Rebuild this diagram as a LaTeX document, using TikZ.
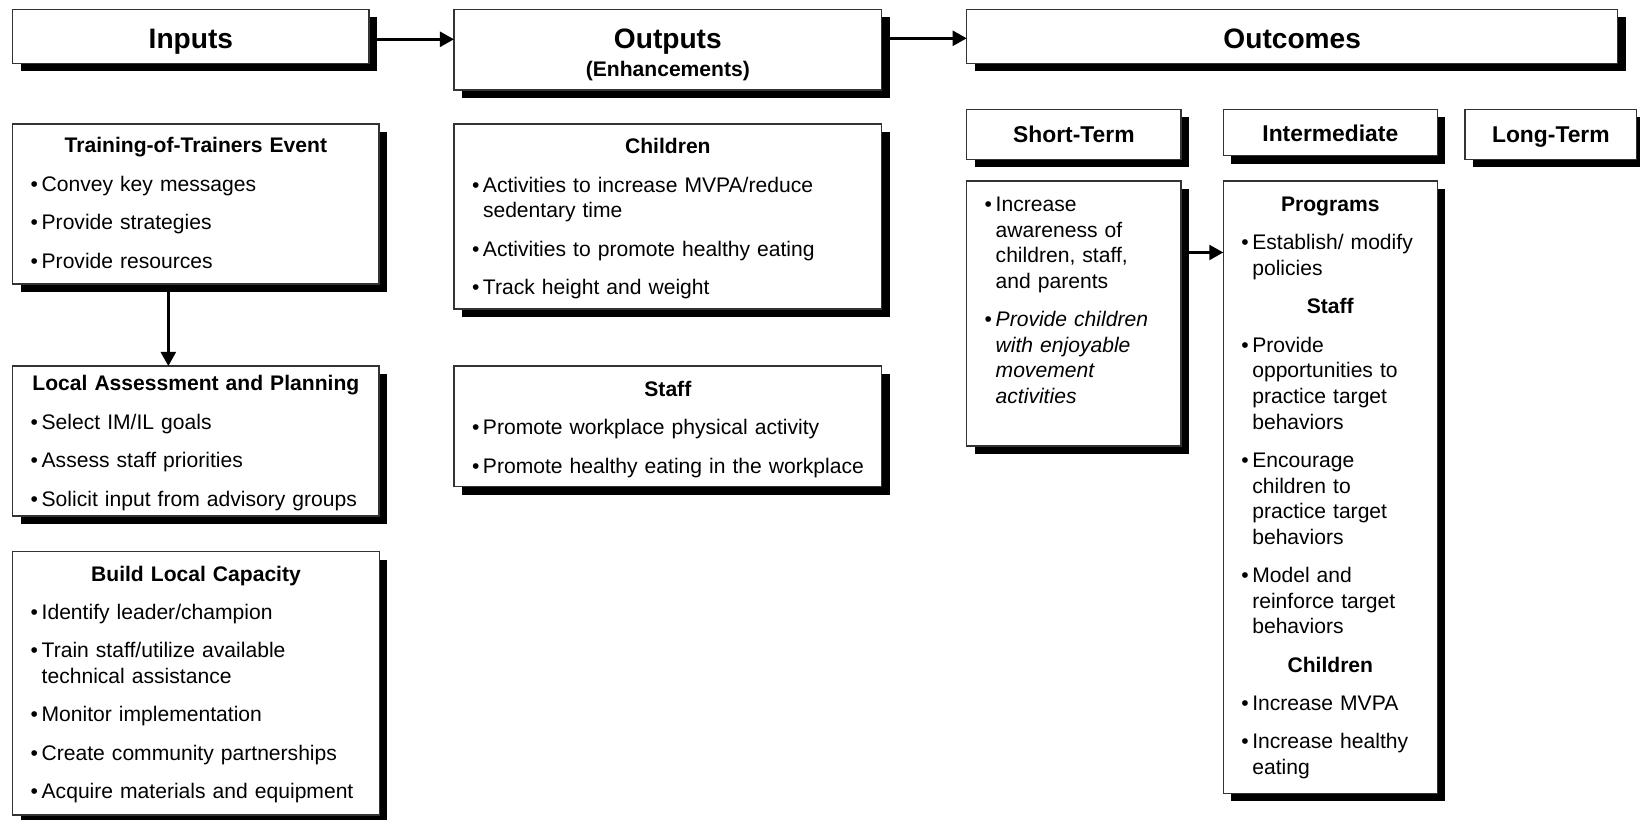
\documentclass[tikz,border=0pt]{standalone}
\usepackage{fontspec}
\setmainfont{Liberation Sans}
\usetikzlibrary{positioning,arrows.meta,shadows}

\newlength{\px}
\setlength{\px}{0.02cm}
\newcommand{\bul}{\hspace*{8\px}\makebox[11\px][l]{\textbullet}}
\newcommand{\contd}{\hspace*{19\px}}
\newcommand{\boxhead}[1]{\makebox[\linewidth][c]{\bfseries #1}}
\newcommand{\nextitem}{\\[7.28pt]}

\tikzset{
  framed/.style={draw=black!80, line width=0.7pt, fill=white, outer sep=0pt,
    drop shadow={shadow xshift=8\px, shadow yshift=-8\px, fill=black, opacity=1}},
  title/.style={framed, anchor=north west, inner sep=0pt,
    font=\bfseries\fontsize{16}{15.82}\selectfont},
  colhead/.style={framed, anchor=north west, inner sep=0pt,
    font=\bfseries\fontsize{13}{15}\selectfont},
  panel/.style={framed, anchor=north west, inner xsep=10\px, inner ysep=0pt,
    align=left, font=\fontsize{12}{14.57}\selectfont},
  arr/.style={-{Triangle[length=8pt,width=8.5pt]}, line width=1.5pt},
}

\begin{document}
\begin{tikzpicture}[x=0.02cm,y=-0.02cm]
  \useasboundingbox (0,0) rectangle (1640,820);

  \node[title, minimum width=356.3\px, text height=39\px, text depth=15\px] (inputs) at (12.7,9.3) {Inputs};
  \node[title, text width=427.7\px, align=center, text height=39.4\px, text depth=41.3\px,
    right=85\px of inputs.north east, anchor=north west] (outputs)
    {Outputs\\{\fontsize{12}{15.82}\selectfont(Enhancements)}};
  \node[title, minimum width=651\px, text height=39\px, text depth=15\px,
    right=85\px of outputs.north east, anchor=north west] (outcomes) {Outcomes};

  \node[colhead, minimum width=214.3\px, text height=33\px, text depth=17\px,
    below=46\px of outcomes.south west, anchor=north west] (short) {Short-Term};
  \node[colhead, minimum width=214\px, text height=32\px, text depth=14.4\px,
    right=42.3\px of short.north east, anchor=north west] (inter) {Intermediate};
  \node[colhead, minimum width=171.7\px, text height=33.5\px, text depth=16.5\px,
    right=27.7\px of inter.north east, anchor=north west] (long) {Long-Term};

  \node[panel, text width=346.3\px, text height=29\px, text depth=131\px,
    below=60.7\px of inputs.south west, anchor=north west] (tot)
    {\boxhead{Training-of-Trainers Event}\nextitem
     \bul Convey key messages\nextitem
     \bul Provide strategies\nextitem
     \bul Provide resources};
  \node[panel, text width=346.3\px, text height=25\px, text depth=125\px,
    below=82\px of tot.south west, anchor=north west] (lap)
    {\boxhead{Local Assessment and Planning}\nextitem
     \bul Select IM/IL goals\nextitem
     \bul Assess staff priorities\nextitem
     \bul Solicit input from advisory groups};
  \node[panel, text width=346.6\px, text height=29.5\px, text depth=233.8\px,
    below=35.7\px of lap.south west, anchor=north west] (blc)
    {\boxhead{Build Local Capacity}\nextitem
     \bul Identify leader/champion\nextitem
     \bul Train staff/utilize available\\\contd technical assistance\nextitem
     \bul Monitor implementation\nextitem
     \bul Create community partnerships\nextitem
     \bul Acquire materials and equipment};

  \node[panel, text width=407.7\px, text height=29.8\px, text depth=155.2\px,
    right=75\px of tot.north east, anchor=north west] (kids)
    {\boxhead{Children}\nextitem
     \bul Activities to increase MVPA/reduce\\\contd sedentary time\nextitem
     \bul Activities to promote healthy eating\nextitem
     \bul Track height and weight};
  \node[panel, text width=407.7\px, text height=30.5\px, text depth=90.2\px,
    below=57\px of kids.south west, anchor=north west] (staffout)
    {\boxhead{Staff}\nextitem
     \bul Promote workplace physical activity\nextitem
     \bul Promote healthy eating in the workplace};

  \node[panel, text width=194.3\px, text height=30.5\px, text depth=234.5\px,
    below=21.7\px of short.south west, anchor=north west] (shortbox)
    {\bul Increase\\\contd awareness of\\\contd children, staff,\\\contd and parents\nextitem
     \bul\textit{Provide children}\\\contd\textit{with enjoyable}\\\contd\textit{movement}\\\contd\textit{activities}};
  \node[panel, text width=194\px, text height=30.5\px, text depth=581.8\px,
    below=25.3\px of inter.south west, anchor=north west] (interbox)
    {\boxhead{Programs}\nextitem
     \bul Establish/ modify\\\contd policies\nextitem
     \boxhead{Staff}\nextitem
     \bul Provide\\\contd opportunities to\\\contd practice target\\\contd behaviors\nextitem
     \bul Encourage\\\contd children to\\\contd practice target\\\contd behaviors\nextitem
     \bul Model and\\\contd reinforce target\\\contd behaviors\nextitem
     \boxhead{Children}\nextitem
     \bul Increase MVPA\nextitem
     \bul Increase healthy\\\contd eating};

  \draw[arr] ([xshift=8\px,yshift=-3\px]inputs.east) -- ([yshift=-3\px]inputs.east -| outputs.west);
  \draw[arr] ([xshift=8\px,yshift=-2\px]outputs.east |- outcomes.west) -- ([yshift=-2\px]outcomes.west);
  \draw[arr] ([xshift=-27.5\px,yshift=-8\px]tot.south) -- ([xshift=-27.5\px]lap.north);
  \draw[arr] ([xshift=8\px,yshift=61\px]shortbox.east) -- ([yshift=61\px]shortbox.east -| interbox.west);
\end{tikzpicture}
\end{document}
